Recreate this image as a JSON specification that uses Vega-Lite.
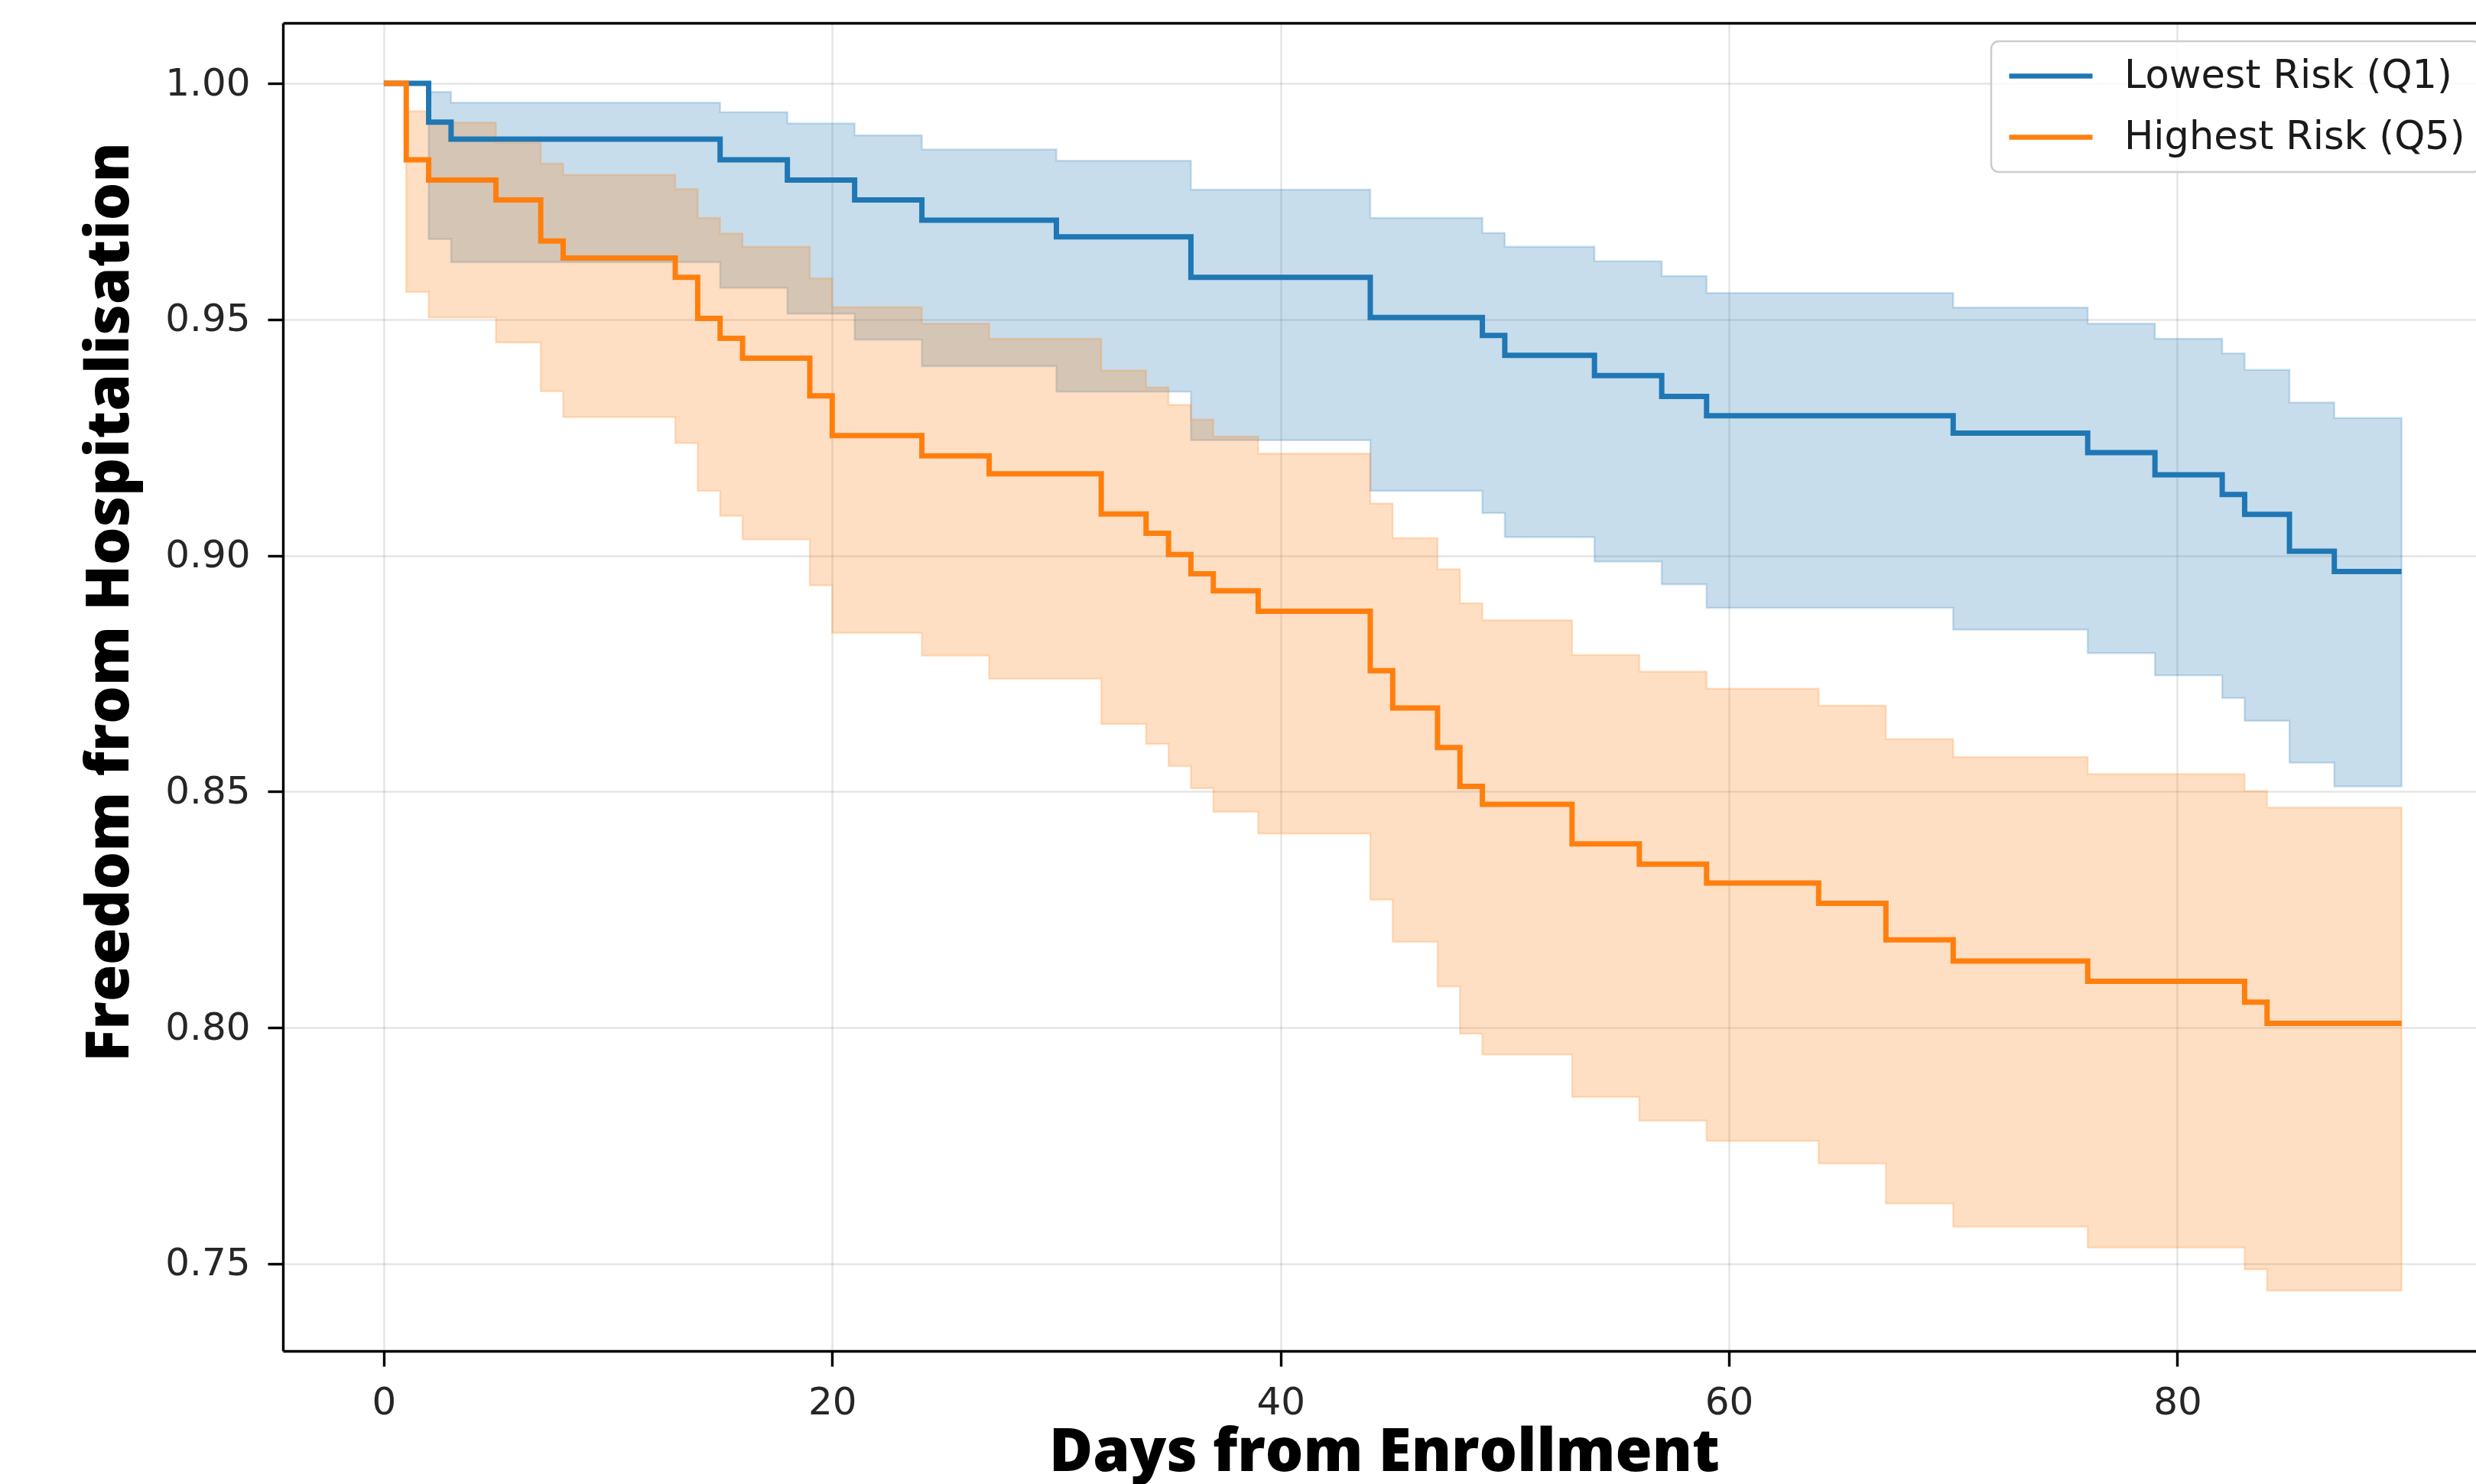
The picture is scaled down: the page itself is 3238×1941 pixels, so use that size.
{
  "$schema": "https://vega.github.io/schema/vega-lite/v6.json",
  "width": 2868,
  "height": 1737,
  "autosize": {"type": "none"},
  "padding": {"left": 370, "top": 30, "right": 0, "bottom": 174},
  "background": "white",
  "data": {
    "values": [
      {"group": "Lowest Risk (Q1)", "day": 0, "s": 1.0, "hi": 1.0, "lo": 1.0},
      {"group": "Lowest Risk (Q1)", "day": 2, "s": 0.9918, "hi": 0.9982, "lo": 0.9670},
      {"group": "Lowest Risk (Q1)", "day": 3, "s": 0.9882, "hi": 0.9959, "lo": 0.9621},
      {"group": "Lowest Risk (Q1)", "day": 15, "s": 0.9838, "hi": 0.9939, "lo": 0.9567},
      {"group": "Lowest Risk (Q1)", "day": 18, "s": 0.9795, "hi": 0.9915, "lo": 0.9512},
      {"group": "Lowest Risk (Q1)", "day": 21, "s": 0.9753, "hi": 0.9890, "lo": 0.9457},
      {"group": "Lowest Risk (Q1)", "day": 24, "s": 0.9710, "hi": 0.9860, "lo": 0.9401},
      {"group": "Lowest Risk (Q1)", "day": 30, "s": 0.9675, "hi": 0.9836, "lo": 0.9347},
      {"group": "Lowest Risk (Q1)", "day": 36, "s": 0.9589, "hi": 0.9775, "lo": 0.9244},
      {"group": "Lowest Risk (Q1)", "day": 44, "s": 0.9504, "hi": 0.9715, "lo": 0.9137},
      {"group": "Lowest Risk (Q1)", "day": 49, "s": 0.9466, "hi": 0.9683, "lo": 0.9090},
      {"group": "Lowest Risk (Q1)", "day": 50, "s": 0.9424, "hi": 0.9654, "lo": 0.9039},
      {"group": "Lowest Risk (Q1)", "day": 54, "s": 0.9381, "hi": 0.9623, "lo": 0.8987},
      {"group": "Lowest Risk (Q1)", "day": 57, "s": 0.9337, "hi": 0.9592, "lo": 0.8939},
      {"group": "Lowest Risk (Q1)", "day": 59, "s": 0.9296, "hi": 0.9556, "lo": 0.8889},
      {"group": "Lowest Risk (Q1)", "day": 70, "s": 0.9259, "hi": 0.9525, "lo": 0.8843},
      {"group": "Lowest Risk (Q1)", "day": 76, "s": 0.9218, "hi": 0.9491, "lo": 0.8793},
      {"group": "Lowest Risk (Q1)", "day": 79, "s": 0.9171, "hi": 0.9459, "lo": 0.8746},
      {"group": "Lowest Risk (Q1)", "day": 82, "s": 0.9129, "hi": 0.9428, "lo": 0.8698},
      {"group": "Lowest Risk (Q1)", "day": 83, "s": 0.9087, "hi": 0.9393, "lo": 0.8650},
      {"group": "Lowest Risk (Q1)", "day": 85, "s": 0.9009, "hi": 0.9324, "lo": 0.8561},
      {"group": "Lowest Risk (Q1)", "day": 87, "s": 0.8966, "hi": 0.9291, "lo": 0.8511},
      {"group": "Lowest Risk (Q1)", "day": 90, "s": 0.8966, "hi": 0.9291, "lo": 0.8511},
      {"group": "Highest Risk (Q5)", "day": 0, "s": 1.0, "hi": 1.0, "lo": 1.0},
      {"group": "Highest Risk (Q5)", "day": 1, "s": 0.9838, "hi": 0.9941, "lo": 0.9558},
      {"group": "Highest Risk (Q5)", "day": 2, "s": 0.9795, "hi": 0.9917, "lo": 0.9504},
      {"group": "Highest Risk (Q5)", "day": 5, "s": 0.9753, "hi": 0.9874, "lo": 0.9451},
      {"group": "Highest Risk (Q5)", "day": 7, "s": 0.9666, "hi": 0.9830, "lo": 0.9348},
      {"group": "Highest Risk (Q5)", "day": 8, "s": 0.9630, "hi": 0.9806, "lo": 0.9293},
      {"group": "Highest Risk (Q5)", "day": 13, "s": 0.9589, "hi": 0.9776, "lo": 0.9238},
      {"group": "Highest Risk (Q5)", "day": 14, "s": 0.9502, "hi": 0.9715, "lo": 0.9137},
      {"group": "Highest Risk (Q5)", "day": 15, "s": 0.9460, "hi": 0.9682, "lo": 0.9084},
      {"group": "Highest Risk (Q5)", "day": 16, "s": 0.9418, "hi": 0.9654, "lo": 0.9034},
      {"group": "Highest Risk (Q5)", "day": 19, "s": 0.9338, "hi": 0.9587, "lo": 0.8937},
      {"group": "Highest Risk (Q5)", "day": 20, "s": 0.9254, "hi": 0.9526, "lo": 0.8836},
      {"group": "Highest Risk (Q5)", "day": 24, "s": 0.9211, "hi": 0.9491, "lo": 0.8788},
      {"group": "Highest Risk (Q5)", "day": 27, "s": 0.9173, "hi": 0.9459, "lo": 0.8739},
      {"group": "Highest Risk (Q5)", "day": 32, "s": 0.9088, "hi": 0.9392, "lo": 0.8643},
      {"group": "Highest Risk (Q5)", "day": 34, "s": 0.9047, "hi": 0.9356, "lo": 0.8601},
      {"group": "Highest Risk (Q5)", "day": 35, "s": 0.9002, "hi": 0.9319, "lo": 0.8554},
      {"group": "Highest Risk (Q5)", "day": 36, "s": 0.8961, "hi": 0.9288, "lo": 0.8507},
      {"group": "Highest Risk (Q5)", "day": 37, "s": 0.8925, "hi": 0.9252, "lo": 0.8457},
      {"group": "Highest Risk (Q5)", "day": 39, "s": 0.8882, "hi": 0.9216, "lo": 0.8411},
      {"group": "Highest Risk (Q5)", "day": 44, "s": 0.8756, "hi": 0.9110, "lo": 0.8271},
      {"group": "Highest Risk (Q5)", "day": 45, "s": 0.8677, "hi": 0.9037, "lo": 0.8182},
      {"group": "Highest Risk (Q5)", "day": 47, "s": 0.8593, "hi": 0.8971, "lo": 0.8087},
      {"group": "Highest Risk (Q5)", "day": 48, "s": 0.8511, "hi": 0.8899, "lo": 0.7987},
      {"group": "Highest Risk (Q5)", "day": 49, "s": 0.8473, "hi": 0.8863, "lo": 0.7943},
      {"group": "Highest Risk (Q5)", "day": 53, "s": 0.8389, "hi": 0.8789, "lo": 0.7853},
      {"group": "Highest Risk (Q5)", "day": 56, "s": 0.8346, "hi": 0.8754, "lo": 0.7803},
      {"group": "Highest Risk (Q5)", "day": 59, "s": 0.8306, "hi": 0.8718, "lo": 0.7760},
      {"group": "Highest Risk (Q5)", "day": 64, "s": 0.8263, "hi": 0.8682, "lo": 0.7712},
      {"group": "Highest Risk (Q5)", "day": 67, "s": 0.8186, "hi": 0.8611, "lo": 0.7627},
      {"group": "Highest Risk (Q5)", "day": 70, "s": 0.8141, "hi": 0.8573, "lo": 0.7578},
      {"group": "Highest Risk (Q5)", "day": 76, "s": 0.8098, "hi": 0.8537, "lo": 0.7534},
      {"group": "Highest Risk (Q5)", "day": 83, "s": 0.8054, "hi": 0.8501, "lo": 0.7488},
      {"group": "Highest Risk (Q5)", "day": 84, "s": 0.8009, "hi": 0.8466, "lo": 0.7443},
      {"group": "Highest Risk (Q5)", "day": 90, "s": 0.8009, "hi": 0.8466, "lo": 0.7443}
    ]
  },
  "layer": [
    {
      "transform": [{"filter": "datum.group === 'Lowest Risk (Q1)'"}],
      "mark": {"type": "area", "interpolate": "step-after", "fill": "#1f77b4", "stroke": "#1f77b4", "fillOpacity": 0.25, "strokeOpacity": 0.22, "strokeWidth": 2.5},
      "encoding": {
        "x": {"field": "day", "type": "quantitative", "scale": {"domain": [-4.5, 93.32], "nice": false, "zero": false},
              "axis": {"values": [0, 20, 40, 60, 80], "grid": true, "title": "Days from Enrollment"}},
        "y": {"field": "lo", "type": "quantitative", "scale": {"domain": [0.7315, 1.0128], "nice": false, "zero": false},
              "title": "Freedom from Hospitalisation",
              "axis": {"values": [0.75, 0.8, 0.85, 0.9, 0.95, 1.0], "format": ".2f", "grid": true}},
        "y2": {"field": "hi"}
      }
    },
    {
      "transform": [{"filter": "datum.group === 'Highest Risk (Q5)'"}],
      "mark": {"type": "area", "interpolate": "step-after", "fill": "#ff7f0e", "stroke": "#ff7f0e", "fillOpacity": 0.25, "strokeOpacity": 0.22, "strokeWidth": 2.5},
      "encoding": {
        "x": {"field": "day", "type": "quantitative", "axis": null},
        "y": {"field": "lo", "type": "quantitative", "title": "Freedom from Hospitalisation"},
        "y2": {"field": "hi"}
      }
    },
    {
      "mark": {"type": "line", "interpolate": "step-after", "strokeWidth": 7},
      "encoding": {
        "x": {"field": "day", "type": "quantitative", "axis": null},
        "y": {"field": "s", "type": "quantitative", "title": "Freedom from Hospitalisation"},
        "color": {"field": "group", "type": "nominal", "scale": {"domain": ["Lowest Risk (Q1)", "Highest Risk (Q5)"], "range": ["#1f77b4", "#ff7f0e"]}, "title": null}
      }
    },
    {
      "mark": {"type": "line", "opacity": 0},
      "encoding": {
        "x": {"field": "day", "type": "quantitative",
              "axis": {"orient": "top", "labels": false, "ticks": false, "grid": false, "title": null, "domain": true}},
        "y": {"field": "s", "type": "quantitative", "title": "Freedom from Hospitalisation"},
        "detail": {"field": "group"}
      }
    }
  ],
  "resolve": {"scale": {"x": "shared", "y": "shared"}, "axis": {"x": "independent"}},
  "config": {
    "view": {"stroke": null},
    "axis": {
      "domainColor": "#000000",
      "domainWidth": 3.4,
      "tickColor": "#000000",
      "tickWidth": 3.4,
      "tickSize": 20,
      "labelFont": "DejaVu Sans",
      "labelFontSize": 50,
      "labelColor": "#262626",
      "gridColor": "#000000",
      "gridOpacity": 0.1,
      "gridWidth": 2.5,
      "titleFont": "Open Sans",
      "titleFontWeight": 800,
      "titleFontSize": 78,
      "titleColor": "#000000"
    },
    "axisX": {
      "labelPadding": 22,
      "titleX": 1440,
      "titleY": 156,
      "titleAlign": "center",
      "titleBaseline": "alphabetic"
    },
    "axisY": {
      "labelPadding": 23,
      "labelBaseline": "middle",
      "titleAngle": 270,
      "titleX": -203,
      "titleY": 757,
      "titleAlign": "center",
      "titleBaseline": "alphabetic"
    },
    "legend": {
      "orient": "none",
      "legendX": 2234,
      "legendY": 24,
      "padding": 20,
      "fillColor": "rgba(255,255,255,0.8)",
      "strokeColor": "#cccccc",
      "strokeWidth": 2.5,
      "cornerRadius": 10,
      "symbolType": "stroke",
      "symbolSize": 11881,
      "symbolStrokeWidth": 6.5,
      "symbolOpacity": 1,
      "clipHeight": 51,
      "labelFont": "DejaVu Sans",
      "labelFontSize": 51,
      "labelColor": "#1a1a1a",
      "labelOffset": 38,
      "labelLimit": 0,
      "rowPadding": 28
    }
  }
}
